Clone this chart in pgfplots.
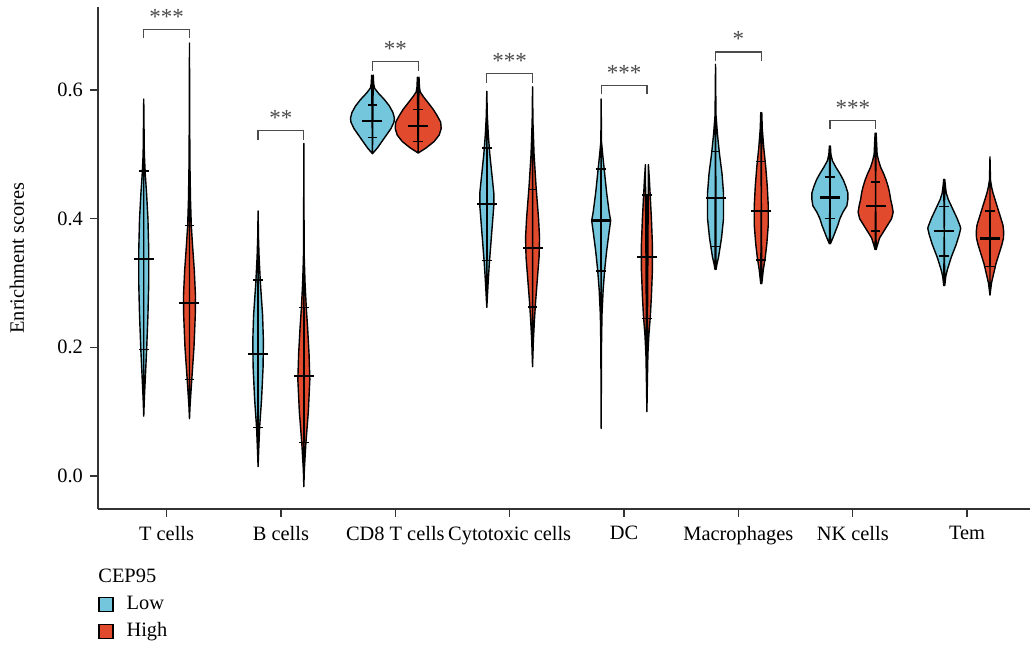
\documentclass[border=0pt]{standalone}
\usepackage{pgfplots}
\pgfplotsset{compat=1.18}
\usepackage{pgfplotstable}
\usepgfplotslibrary{fillbetween}
\usepackage{fontspec}
\setmainfont{Liberation Serif}

\definecolor{lowc}{RGB}{115,198,220}
\definecolor{highc}{RGB}{226,74,46}
\definecolor{sigc}{RGB}{75,75,75}

% half-width (w) of each violin, in pixels of the drawing, against the score (y)
\pgfplotstableread{
y w
0.093 0
0.12 0.6
0.15 1.5
0.20 3
0.25 4.2
0.30 5
0.35 5
0.40 4.2
0.44 2.8
0.47 1.5
0.50 0.6
0.54 0.3
0.586 0
}\TcLow
\pgfplotstableread{
y w
0.089 0
0.11 0.6
0.15 2.3
0.20 4.5
0.25 5.8
0.28 6
0.32 4.8
0.36 3
0.39 1.8
0.43 1
0.48 0.5
0.55 0.2
0.673 0
}\TcHigh
\pgfplotstableread{
y w
0.0145 0
0.04 0.6
0.075 1.5
0.12 3.5
0.17 5
0.21 5.3
0.25 4.5
0.30 2.3
0.34 1
0.37 0.4
0.412 0
}\BcLow
\pgfplotstableread{
y w
-0.0166 0
0.01 0.5
0.05 2
0.10 4.5
0.15 6
0.19 5.2
0.23 3.8
0.26 2.5
0.30 1.2
0.34 0.4
0.40 0.2
0.517 0
}\BcHigh
\pgfplotstableread{
y w
0.501 0
0.51 5
0.52 9.5
0.53 14
0.54 18.5
0.55 21.5
0.556 22
0.565 20.5
0.575 17
0.585 12
0.595 6
0.603 2
0.61 1.2
0.623 0.8
}\CDLow
\pgfplotstableread{
y w
0.502 0
0.505 3
0.51 8
0.52 16
0.53 21
0.54 23
0.55 22.5
0.56 19
0.57 15
0.58 10
0.59 5
0.597 2
0.605 1.2
0.620 0.8
}\CDHigh
\pgfplotstableread{
y w
0.262 0
0.30 1.3
0.33 2.5
0.36 4
0.39 5.5
0.42 7
0.44 7
0.47 5
0.50 3
0.53 1.5
0.56 0.5
0.598 0
}\CyLow
\pgfplotstableread{
y w
0.170 0
0.21 0.8
0.24 1.8
0.27 3
0.30 4.5
0.34 6.5
0.37 7
0.40 6
0.45 3.5
0.50 1.5
0.55 0.4
0.605 0
}\CyHigh
\pgfplotstableread{
y w
0.074 0
0.20 0.3
0.25 0.8
0.29 2
0.32 3.5
0.35 5.5
0.38 8
0.397 9.5
0.41 8
0.44 5.5
0.47 3.5
0.50 1.5
0.52 0.3
0.586 0
}\DCLow
\pgfplotstableread{
y w
0.100 0
0.15 0.5
0.19 1
0.22 2
0.25 3.5
0.28 4.5
0.32 5.5
0.36 5.5
0.40 4.5
0.43 3.5
0.46 2.5
0.484 1.5
}\DCHigh
\pgfplotstableread{
y w
0.321 0.5
0.33 1.5
0.34 3
0.35 4
0.37 6
0.40 8
0.44 8
0.47 6.5
0.50 4
0.53 2
0.56 0.5
0.60 0.2
0.640 0
}\MaLow
\pgfplotstableread{
y w
0.299 0.5
0.32 2
0.34 4
0.36 5.5
0.39 7
0.42 7
0.45 6
0.48 4.5
0.51 2.5
0.54 1
0.565 0.5
}\MaHigh
\pgfplotstableread{
y w
0.361 0.5
0.37 3
0.38 5.5
0.39 8
0.40 10
0.41 13
0.42 17
0.43 18
0.44 18
0.45 16
0.46 13.5
0.47 10
0.48 6
0.49 2.5
0.50 1
0.513 0.5
}\NKLow
\pgfplotstableread{
y w
0.352 0.5
0.36 2
0.37 4
0.38 8
0.39 12
0.40 16
0.41 17.5
0.42 16.5
0.43 15
0.44 14
0.45 12.5
0.46 10.5
0.47 8
0.48 5
0.49 3
0.50 1.5
0.533 0.5
}\NKHigh
\pgfplotstableread{
y w
0.296 0.5
0.31 1.5
0.32 3
0.33 5
0.34 7
0.35 9.5
0.36 12
0.375 15
0.385 16.5
0.39 15.5
0.40 13
0.41 10
0.42 7
0.43 4
0.44 2
0.45 1.2
0.461 0.5
}\TeLow
\pgfplotstableread{
y w
0.281 0
0.29 0.7
0.30 1.5
0.31 3
0.32 4.5
0.33 6
0.34 8
0.35 10
0.36 12
0.37 13.5
0.38 13.7
0.39 13
0.40 11
0.41 9
0.42 7
0.43 5
0.44 3
0.45 1.5
0.46 0.5
0.496 0
}\TeHigh

% mean with lower and upper bar ends
\pgfplotstableread{
x m lo hi
0.8 0.337 0.197 0.474
1.8 0.190 0.075 0.305
2.8 0.552 0.526 0.577
3.8 0.423 0.335 0.510
4.8 0.397 0.319 0.477
5.8 0.432 0.357 0.504
6.8 0.433 0.400 0.465
7.8 0.381 0.342 0.419
}\statLow
\pgfplotstableread{
x m lo hi
1.2 0.269 0.150 0.389
2.2 0.156 0.052 0.262
3.2 0.544 0.520 0.570
4.2 0.354 0.263 0.445
5.2 0.340 0.245 0.437
6.2 0.412 0.336 0.489
7.2 0.420 0.381 0.457
8.2 0.369 0.326 0.412
}\statHigh

% pixel half-width -> x units (one category = 114.4 px)
\def\ws{0.008741}

\newcommand{\violin}[4]{%
  \addplot[draw=none, name path=R#4, forget plot] table[x expr={#1+\thisrow{w}*\ws}, y=y] {#2};
  \addplot[draw=none, name path=L#4, forget plot] table[x expr={#1-\thisrow{w}*\ws}, y=y] {#2};
  \addplot[fill=#3, draw=black, line width=0.7pt, line join=round, forget plot] fill between[of=R#4 and L#4];
}

\newcommand{\signif}[5]{% x1, x2, top, leg bottom, stars
  \addplot[sigc, line width=0.65pt, forget plot] coordinates {(#1,#4) (#1,#3) (#2,#3) (#2,#4)};
  \node[text=sigc, anchor=base, yshift=2.6pt, inner sep=0pt, font=\fontsize{11.5}{13}\selectfont] at (axis cs:{(#1+#2)/2},#3) {#5};
}

\pgfplotsset{
  meanbar/.style={only marks, mark=-, mark size=5pt, mark options={line width=1.1pt, black}, forget plot,
    error bars/.cd, y dir=both, y explicit,
    error bar style={line width=0.7pt, black},
    error mark options={rotate=90, mark size=2.4pt, line width=0.75pt, black}},
}

\begin{document}
\begin{tikzpicture}[font=\fontsize{10.2}{12.2}\selectfont]
\begin{axis}[
  at={(0,0)}, anchor=south west,
  scale only axis, width=466pt, height=251pt,
  xmin=0.4, xmax=8.55, ymin=-0.0513, ymax=0.729,
  axis x line*=bottom, axis y line*=left,
  axis line style={-, line width=0.7pt, black!80},
  tick style={line width=0.7pt, black!80},
  tick align=outside, major tick length=4pt,
  xtick={1,2,3,4,5,6,7,8},
  xticklabels={T cells, B cells, CD8 T cells, Cytotoxic cells, DC, Macrophages, NK cells, Tem},
  xticklabel style={yshift=-1.2pt},
  ytick={0,0.2,0.4,0.6},
  yticklabel style={/pgf/number format/.cd, fixed, fixed zerofill, precision=1, assume math mode=true},
  every tick label/.append style={font=\fontsize{10.2}{12.2}\selectfont},
  ylabel={Enrichment scores},
  ylabel style={at={(axis description cs:-0.087,0.5)}, anchor=center, font=\fontsize{10.2}{12.2}\selectfont},
  legend style={at={(axis description cs:0,-0.171)}, anchor=north west, draw=none, fill=none,
    inner sep=0pt, row sep=4pt, font=\fontsize{10.2}{12.2}\selectfont,
    nodes={inner xsep=3.5pt, inner ysep=0.5pt},
    /tikz/every odd column/.append style={column sep=3pt}},
  legend cell align=left,
  legend image code/.code={\draw[#1, line width=0.6pt] (0pt,-3.5pt) rectangle (7pt,3.5pt);},
  clip=false,
]
\addlegendimage{fill=lowc, draw=black}
\addlegendentry{Low}
\addlegendimage{fill=highc, draw=black}
\addlegendentry{High}

\violin{0.8}{\TcLow}{lowc}{a}
\violin{1.2}{\TcHigh}{highc}{b}
\violin{1.8}{\BcLow}{lowc}{c}
\violin{2.2}{\BcHigh}{highc}{d}
\violin{2.8}{\CDLow}{lowc}{e}
\violin{3.2}{\CDHigh}{highc}{f}
\violin{3.8}{\CyLow}{lowc}{g}
\violin{4.2}{\CyHigh}{highc}{h}
\violin{4.8}{\DCLow}{lowc}{i}
\violin{5.2}{\DCHigh}{highc}{j}
\violin{5.8}{\MaLow}{lowc}{k}
\violin{6.2}{\MaHigh}{highc}{l}
\violin{6.8}{\NKLow}{lowc}{m}
\violin{7.2}{\NKHigh}{highc}{n}
\violin{7.8}{\TeLow}{lowc}{o}
\violin{8.2}{\TeHigh}{highc}{p}

\addplot[meanbar]
  table[x=x, y=m, y error plus expr=\thisrow{hi}-\thisrow{m}, y error minus expr=\thisrow{m}-\thisrow{lo}] {\statLow};
\addplot[meanbar]
  table[x=x, y=m, y error plus expr=\thisrow{hi}-\thisrow{m}, y error minus expr=\thisrow{m}-\thisrow{lo}] {\statHigh};

\signif{0.8}{1.2}{0.694}{0.681}{***}
\signif{1.8}{2.2}{0.537}{0.523}{**}
\signif{2.8}{3.2}{0.644}{0.630}{**}
\signif{3.8}{4.2}{0.626}{0.611}{***}
\signif{4.8}{5.2}{0.607}{0.593}{***}
\signif{5.8}{6.2}{0.659}{0.645}{*}
\signif{6.8}{7.2}{0.553}{0.540}{***}

\node[anchor=west, inner sep=0pt] at (axis description cs:0,-0.1335) {CEP95};
\end{axis}
\pgfresetboundingbox
\path[use as bounding box] (-49pt,-69pt) rectangle (467.5pt,254.5pt);
\end{tikzpicture}
\end{document}
